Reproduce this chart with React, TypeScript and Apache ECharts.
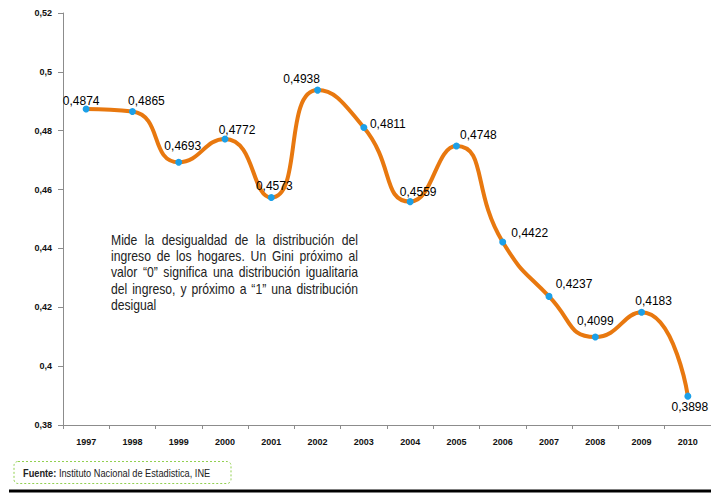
import React, { useEffect, useRef } from "react";
import * as echarts from "echarts";

const years = ["1997", "1998", "1999", "2000", "2001", "2002", "2003", "2004", "2005", "2006", "2007", "2008", "2009", "2010"];
const gini = [0.4874, 0.4865, 0.4693, 0.4772, 0.4573, 0.4938, 0.4811, 0.4559, 0.4748, 0.4422, 0.4237, 0.4099, 0.4183, 0.3898];
const yTicks = { min: 0.38, max: 0.52, interval: 0.02 };
// label offsets (style only) relative to each point
const labelOffsets: [number, number][] = [
  [-5, -8], [14, -11], [4, -16], [12, -9], [3, -12], [-16, -11], [24, -3],
  [8, -10], [22, -11], [27, -9], [25, -12], [0, -16], [12, -11], [2, 11],
];
const noteLines = [
  "Mide la desigualdad de la distribución del",
  "ingreso de los hogares. Un Gini próximo al",
  "valor “0” significa una distribución igualitaria",
  "del ingreso, y próximo a “1” una distribución",
  "desigual",
];
const sourceBold = "Fuente:";
const sourceText = " Instituto Nacional de Estadistica, INE";

const ARIAL = "'Liberation Sans', Arial, sans-serif";

function buildNote(): any[] {
  const ctx = document.createElement("canvas").getContext("2d")!;
  const left = 111;
  const right = 358;
  const target = right - left;
  const sx = 0.84;
  let size = 14.5;
  const fontOf = (s: number) => `${s}px ${ARIAL}`;
  ctx.font = fontOf(size);
  const maxW = Math.max(...noteLines.map((l) => ctx.measureText(l).width * sx));
  if (maxW > target * 0.99) {
    size = Math.floor(size * (target * 0.99) / maxW * 10) / 10;
    ctx.font = fontOf(size);
  }
  const els: any[] = [];
  noteLines.forEach((line, i) => {
    const y = 240 + i * 16.3;
    const words = line.split(" ");
    const last = i === noteLines.length - 1;
    const widths = words.map((w) => ctx.measureText(w).width * sx);
    const total = widths.reduce((a, b) => a + b, 0);
    const gap = last || words.length < 2 ? ctx.measureText(" ").width * sx : (target - total) / (words.length - 1);
    let x = left;
    words.forEach((w, j) => {
      els.push({
        type: "text",
        x,
        y,
        scaleX: sx,
        silent: true,
        style: { text: w, font: fontOf(size), fill: "#222", align: "left", verticalAlign: "middle" },
      });
      x += widths[j] + gap;
    });
  });
  return els;
}

export default function App() {
  const ref = useRef<HTMLDivElement>(null);
  useEffect(() => {
    if (!ref.current) return;
    const chart = echarts.init(ref.current, null, { renderer: "svg" });
    const fmt = (v: number) => String(Number(v.toFixed(4))).replace(".", ",");
    chart.setOption({
      animation: false,
      backgroundColor: "#ffffff",
      grid: { left: 63, right: 0, top: 13, bottom: 70 },
      xAxis: {
        type: "category",
        data: years,
        boundaryGap: true,
        axisLine: { lineStyle: { color: "#8c8c8c", width: 1 } },
        axisTick: { show: true, length: 4, lineStyle: { color: "#8c8c8c" } },
        axisLabel: { color: "#111", fontSize: 9, fontWeight: "bold", fontFamily: ARIAL, margin: 12 },
        splitLine: { show: false },
      },
      yAxis: {
        type: "value",
        min: yTicks.min,
        max: yTicks.max,
        interval: yTicks.interval,
        axisLine: { show: true, lineStyle: { color: "#8c8c8c", width: 1 } },
        axisTick: { show: true, length: 5, lineStyle: { color: "#8c8c8c" } },
        axisLabel: {
          color: "#111",
          fontSize: 9,
          fontWeight: "bold",
          fontFamily: ARIAL,
          margin: 11,
          formatter: (v: number) => fmt(v),
        },
        splitLine: { show: false },
      },
      series: [
        {
          type: "line",
          smooth: 0.55,
          data: gini.map((v, i) => ({
            value: v,
            label: { offset: labelOffsets[i] },
          })),
          lineStyle: { color: "#E8780F", width: 4 },
          itemStyle: { color: "#1CA0E8" },
          symbol: "circle",
          symbolSize: 7,
          label: {
            show: true,
            position: "inside",
            color: "#000",
            fontSize: 12,
            fontFamily: ARIAL,
            formatter: (p: any) => fmt(p.value),
          },
          z: 3,
        },
      ],
      graphic: [
        ...buildNote(),
        {
          type: "rect",
          shape: { x: 14, y: 461.5, width: 217, height: 22, r: 4 },
          style: { fill: "none", stroke: "#92D050", lineWidth: 1, lineDash: [2, 2] },
          silent: true,
        },
        {
          type: "text",
          x: 23,
          y: 473,
          scaleX: 0.88,
          silent: true,
          style: {
            text: `{b|${sourceBold}}{n|${sourceText}}`,
            verticalAlign: "middle",
            rich: {
              b: { fontSize: 10.5, fontWeight: "bold", fontFamily: ARIAL, fill: "#222", color: "#222" },
              n: { fontSize: 10.5, fontFamily: ARIAL, fill: "#222", color: "#222" },
            },
          },
        },
        {
          type: "line",
          shape: { x1: 9, y1: 491, x2: 711, y2: 491 },
          style: { stroke: "#000", lineWidth: 3 },
          silent: true,
        },
      ],
    });
    return () => chart.dispose();
  }, []);
  return <div ref={ref} style={{ position: "fixed", left: 0, top: 0, width: 711, height: 495 }} />;
}
